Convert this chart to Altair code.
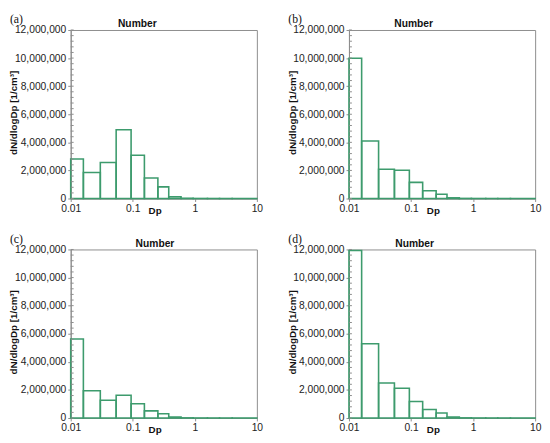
import altair as alt
import pandas as pd

# ---- data ----
edges = [0.01, 0.016, 0.030, 0.054, 0.094, 0.154, 0.254, 0.38, 0.60, 0.94, 1.6, 2.5, 4.0, 10.0]
vals_a = [2820000, 1850000, 2570000, 4900000, 3080000, 1460000, 830000, 120000, 20000, 6000, 3000, 1500, 800]
vals_b = [9990000, 4100000, 2080000, 2010000, 1150000, 560000, 300000, 50000, 10000, 4000, 2000, 1000, 500]
vals_c = [5620000, 1940000, 1270000, 1620000, 1020000, 510000, 300000, 70000, 12000, 4000, 2000, 1000, 500]
vals_d = [11930000, 5290000, 2490000, 2120000, 1170000, 600000, 350000, 70000, 12000, 4000, 2000, 1000, 500]
panel_labels = ["(a)", "(b)", "(c)", "(d)"]
panel_title = "Number"
title_x = [68, 66, 86, 67]          # horizontal position of "Number" in each panel
x_tick_values = [0.01, 0.1, 1, 10]
y_major = [0, 2000000, 4000000, 6000000, 8000000, 10000000, 12000000]
y_minor = [i * 400000 for i in range(31)]

GREEN = "#3d9b6d"
GRAY = "#8c8c8c"
FONT = "Liberation Sans"
W, H = 190, 172


def panel(label, vals, tx):
    df = pd.DataFrame({"lo": edges[:-1], "hi": edges[1:], "v": vals, "zero": [0] * len(vals)})
    yscale = alt.Scale(domain=[0, 12000000], nice=False)
    xscale = alt.Scale(type="log", domain=[0.01, 10], nice=False)
    yaxis = alt.Axis(
        values=y_major, format=",d", title="dN/dlogDp [1/cm³]", titleX=-53, titleY=84,
        titleAngle=270, titleBaseline="bottom", titleAlign="center",
        tickSize=3, labelPadding=2, labelOverlap=False)

    bars = alt.Chart(df).mark_rect(
        fill="white", fillOpacity=0, stroke=GREEN, strokeWidth=1.6
    ).encode(
        x=alt.X("lo:Q", scale=xscale, axis=alt.Axis(
            values=x_tick_values, format="~g", title="Dp", titleX=79, titleY=15,
            titleAlign="left", titleBaseline="alphabetic", tickSize=3, labelPadding=2,
            labelFlush=False, labelOverlap=False)),
        x2="hi:Q",
        y=alt.Y("v:Q", scale=yscale, axis=yaxis),
        y2="zero:Q",
    )

    minor = alt.Chart(pd.DataFrame({"v": y_minor})).mark_rule(
        color=GRAY, strokeWidth=1
    ).encode(
        y=alt.Y("v:Q", scale=yscale, axis=yaxis),
        x=alt.value(0),
        x2=alt.value(3),
    )

    ttl = alt.Chart(pd.DataFrame({"t": [panel_title]})).mark_text(
        font=FONT, fontSize=10.5, fontWeight="bold", color="#111", align="center", baseline="alphabetic"
    ).encode(text="t:N", x=alt.value(tx), y=alt.value(-3))

    lab = alt.Chart(pd.DataFrame({"t": [label]})).mark_text(
        font="Liberation Serif", fontSize=12, color="#111", align="left", baseline="top"
    ).encode(text="t:N", x=alt.value(-62), y=alt.value(-16))

    return alt.layer(bars, minor, ttl, lab).properties(width=W, height=H)


panels = [
    panel(panel_labels[0], vals_a, title_x[0]),
    panel(panel_labels[1], vals_b, title_x[1]),
    panel(panel_labels[2], vals_c, title_x[2]),
    panel(panel_labels[3], vals_d, title_x[3]),
]

chart = alt.concat(
    *panels, columns=2, spacing={"row": 52, "column": 94}, bounds="flush"
).properties(
    padding=0, background="white"
).configure_view(
    stroke=GRAY, strokeWidth=1
).configure_axis(
    grid=False, domainColor=GRAY, tickColor=GRAY, labelFont=FONT, labelFontSize=10.5,
    labelColor="#222", titleFont=FONT, titleFontSize=10, titleFontWeight="bold",
    titleColor="#111"
)

chart.save("out.html", embed_options={"renderer": "svg", "actions": False})
